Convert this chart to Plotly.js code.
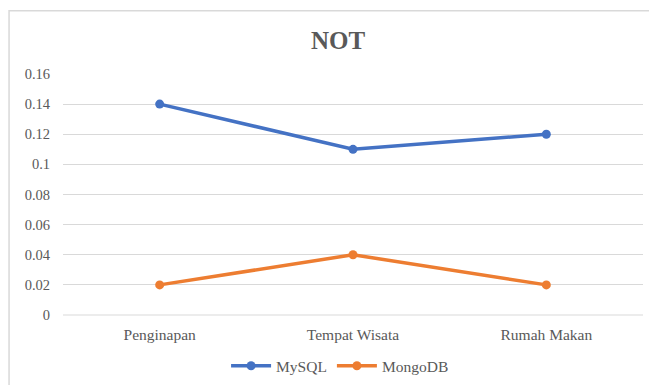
<!DOCTYPE html>
<html>
<head>
<meta charset="utf-8">
<script src="https://cdn.plot.ly/plotly-3.0.1.min.js"></script>
<style>
  html, body { margin: 0; padding: 0; background: #ffffff; }
  #chart { width: 649px; height: 385px; }
</style>
</head>
<body>
<div id="chart"></div>
<script>
// Query categories and timings (seconds) for the NOT operator
const categories = ["Penginapan", "Tempat Wisata", "Rumah Makan"];
const mysqlValues = [0.14, 0.11, 0.12];
const mongoValues = [0.02, 0.04, 0.02];
const yTicks = [0, 0.02, 0.04, 0.06, 0.08, 0.1, 0.12, 0.14, 0.16];

const serif = "'Liberation Serif', 'Times New Roman', serif";
const textGrey = "#595959";

const traces = [
  {
    x: categories, y: mysqlValues, name: "MySQL",
    type: "scatter", mode: "lines+markers",
    line: { color: "#4472C4", width: 3.5 },
    marker: { color: "#4472C4", size: 9 }
  },
  {
    x: categories, y: mongoValues, name: "MongoDB",
    type: "scatter", mode: "lines+markers",
    line: { color: "#ED7D31", width: 3.5 },
    marker: { color: "#ED7D31", size: 9 }
  }
];

const layout = {
  width: 649, height: 385,
  margin: { l: 63, r: 6, t: 74, b: 70 },
  paper_bgcolor: "#ffffff",
  plot_bgcolor: "#ffffff",
  title: {
    text: "<b>NOT</b>",
    font: { family: serif, size: 25, color: textGrey },
    xref: "container", x: 0.521, xanchor: "center",
    yref: "container", y: 0.896, yanchor: "middle"
  },
  xaxis: {
    type: "category",
    range: [-0.5, 2.5],
    showgrid: false, zeroline: false, showline: false,
    ticks: "", ticklabelstandoff: 8,
    tickfont: { family: serif, size: 15.5, color: textGrey },
    fixedrange: true
  },
  yaxis: {
    range: [0, 0.16],
    tickvals: yTicks,
    ticktext: yTicks.map(v => String(v)),
    showgrid: true, gridcolor: "#d9d9d9", gridwidth: 1,
    zeroline: false, showline: false,
    ticks: "", ticklabelstandoff: 12,
    tickfont: { family: serif, size: 14.5, color: textGrey },
    fixedrange: true
  },
  showlegend: true,
  legend: {
    orientation: "h",
    xref: "container", x: 0.524, xanchor: "center",
    yref: "container", y: 0.049, yanchor: "middle",
    font: { family: serif, size: 15.5, color: textGrey },
    itemwidth: 40
  },
  shapes: [
    {
      type: "line", xref: "paper", yref: "paper",
      x0: 0, x1: 1, y0: 0, y1: 0,
      line: { color: "#d9d9d9", width: 1 }, layer: "below"
    },
    {
      type: "rect", xref: "paper", yref: "paper",
      x0: -0.093, x1: 1.1, y0: -0.6, y1: 1.2625,
      line: { color: "#d9d9d9", width: 1.5 },
      fillcolor: "rgba(0,0,0,0)", layer: "below"
    }
  ]
};

Plotly.newPlot("chart", traces, layout, { displayModeBar: false, staticPlot: true });
</script>
</body>
</html>
